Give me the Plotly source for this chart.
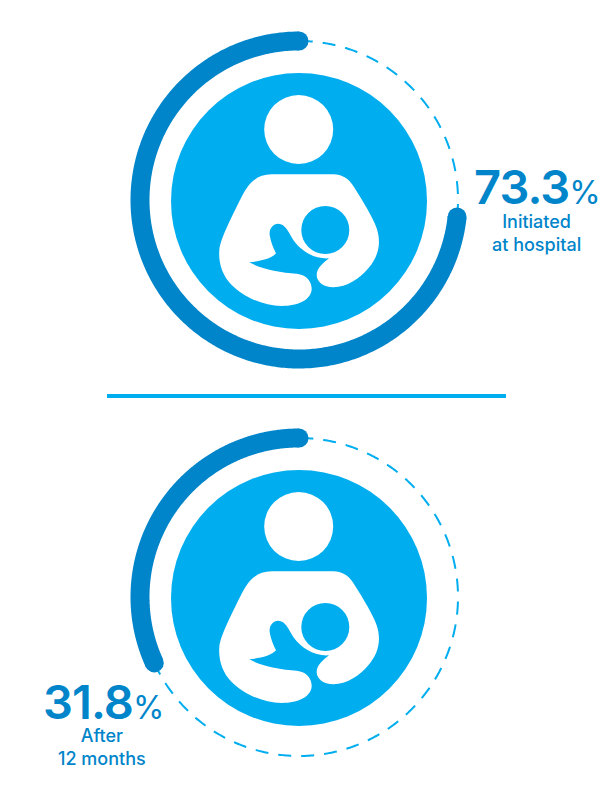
import numpy as np
import plotly.graph_objects as go

# Data
percent_values = [73.3, 31.8]
percent_labels = ["73.3", "31.8"]
captions = [["Initiated", "at hospital"], ["After", "12 months"]]

DARK = "#0085CA"
LIGHT = "#00ADEF"
CX = 299
RING_R = 159
CENTERS = [200, 597]
DISK_R = 128

TEXT_POS = [
    dict(nx=474, ny=186, cx=536, cy=233),
    dict(nx=43, ny=701, cx=102, cy=747),
]

BODY = [
    ("M", (215, 283)), ("L", (400, 283)),
    ("C", (425, 283), (445, 295), (460, 318)),
    ("C", (490, 365), (520, 415), (530, 445)),
    ("C", (545, 490), (535, 530), (505, 565)),
    ("C", (480, 595), (440, 622), (400, 622)),
    ("C", (370, 622), (350, 605), (350, 585)),
    ("C", (350, 565), (370, 548), (387, 535)),
    ("C", (345, 538), (305, 515), (280, 480)),
    ("C", (262, 450), (255, 432), (235, 431)),
    ("C", (218, 431), (207, 447), (209, 465)),
    ("C", (212, 485), (220, 505), (228, 520)),
    ("C", (215, 535), (180, 545), (148, 546)),
    ("C", (175, 565), (240, 578), (290, 581)),
    ("C", (320, 584), (335, 605), (335, 628)),
    ("C", (333, 660), (295, 678), (245, 678)),
    ("C", (190, 678), (130, 650), (95, 615)),
    ("C", (65, 585), (55, 545), (58, 510)),
    ("C", (60, 480), (90, 420), (125, 350)),
    ("C", (145, 310), (170, 283), (215, 283)),
]


def body_path(dy):
    out = []
    for seg in BODY:
        pts = " ".join(f"{p[0] / 3 + 200:.2f},{p[1] / 3 + 80 + dy:.2f}" for p in seg[1:])
        out.append(f"{seg[0]} {pts}")
    return " ".join(out) + " Z"


def arc(cy, start_pct, end_pct):
    # 0% at 12 o'clock, running counter-clockwise
    pct = np.linspace(start_pct, end_pct, 360)
    th = np.deg2rad(pct * 3.6)
    return CX - RING_R * np.sin(th), cy - RING_R * np.cos(th)


fig = go.Figure()
shapes = []
annotations = []


def text(x, y, s, size, weight, anchor):
    annotations.append(dict(
        x=x, y=y, text=s, xref="x", yref="y", showarrow=False, xanchor=anchor, yanchor="middle",
        font=dict(family="Inter, Lato, sans-serif", size=size, color=DARK, weight=weight),
        borderpad=0, borderwidth=0))


for i, (value, cy) in enumerate(zip(percent_values, CENTERS)):
    dy = cy - 200
    x, y = arc(cy, value, 100)
    fig.add_trace(go.Scatter(x=x, y=y, mode="lines", hoverinfo="skip",
                             line=dict(color=LIGHT, width=2, dash="13px,10px", simplify=False)))
    x, y = arc(cy, 0, value)
    fig.add_trace(go.Scatter(x=x, y=y, mode="lines", hoverinfo="skip",
                             line=dict(color=DARK, width=19, simplify=False)))
    fig.add_trace(go.Scatter(x=[x[0], x[-1]], y=[y[0], y[-1]], mode="markers", hoverinfo="skip",
                             marker=dict(color=DARK, size=19, line=dict(width=0))))

    shapes.append(dict(type="circle", xref="x", yref="y", x0=CX - DISK_R, x1=CX + DISK_R,
                       y0=cy + 1 - DISK_R, y1=cy + 1 + DISK_R, fillcolor=LIGHT, line=dict(width=0)))
    shapes.append(dict(type="circle", xref="x", yref="y", x0=298.7 - 34.5, x1=298.7 + 34.5,
                       y0=129.5 + dy - 34.5, y1=129.5 + dy + 34.5, fillcolor="white", line=dict(width=0)))
    shapes.append(dict(type="path", path=body_path(dy), xref="x", yref="y",
                       fillcolor="white", line=dict(width=0)))
    shapes.append(dict(type="circle", xref="x", yref="y", x0=325.3 - 24, x1=325.3 + 24,
                       y0=230 + dy - 24, y1=230 + dy + 24, fillcolor=LIGHT, line=dict(width=0)))

    p = TEXT_POS[i]
    text(p["nx"], p["ny"],
         f"<span style='letter-spacing:-0.9px'>{percent_labels[i]}</span>"
         "<span style='font-size:32px;font-weight:400'>%</span>",
         47, 600, "left")
    text(p["cx"], p["cy"], "<br>".join(captions[i]), 18, 500, "center")

shapes.append(dict(type="line", xref="x", yref="y", x0=107, x1=506, y0=396, y1=396,
                   line=dict(color=LIGHT, width=4)))

fig.update_layout(
    width=612, height=792, margin=dict(l=0, r=0, t=0, b=0),
    paper_bgcolor="white", plot_bgcolor="white", showlegend=False,
    xaxis=dict(range=[0, 612], visible=False, fixedrange=True),
    yaxis=dict(range=[792, 0], visible=False, fixedrange=True),
    shapes=shapes, annotations=annotations,
)
fig.write_html("out.html", config={"displayModeBar": False},
               post_script="document.body.style.margin='0';")
